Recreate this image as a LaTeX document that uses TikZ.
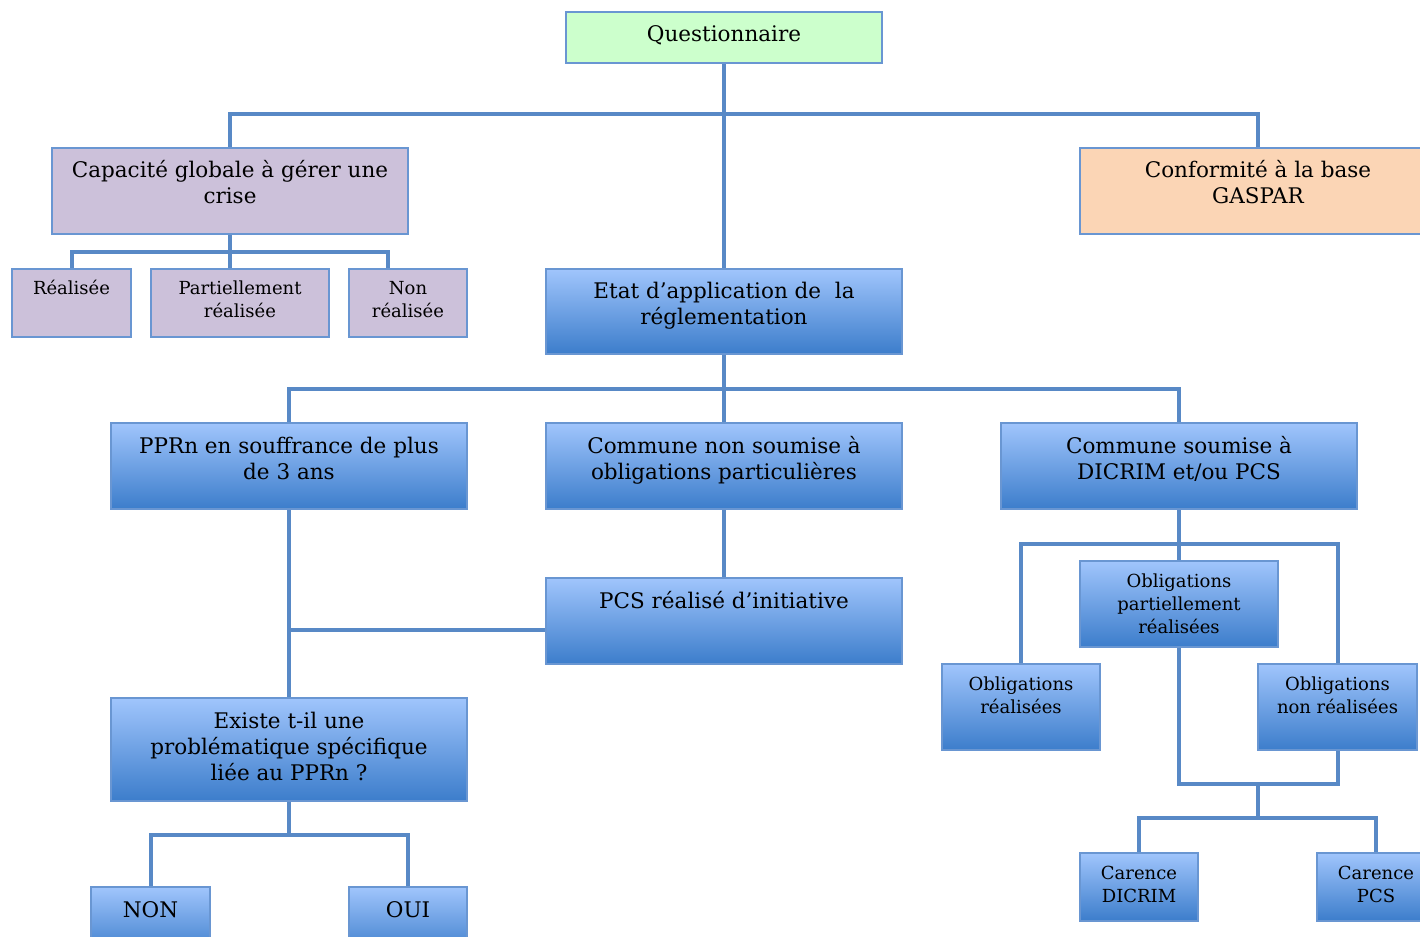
\documentclass[tikz,border=0pt]{standalone}
\usepackage{fontspec}
\setmainfont{DejaVu Serif}
\usetikzlibrary{backgrounds}
\definecolor{ln}{RGB}{88,137,198}
\definecolor{bd}{RGB}{105,150,210}
\definecolor{qgreen}{RGB}{204,255,204}
\definecolor{purp}{RGB}{204,193,218}
\definecolor{orng}{RGB}{251,213,181}
\definecolor{gtop}{RGB}{160,197,252}
\definecolor{gbot}{RGB}{60,125,203}
\newcommand\bigtxt{\fontsize{21.5}{26}\selectfont}
\newcommand\smtxt{\fontsize{18}{23}\selectfont}
\newcommand\boxlabel[4]{\node[txt,anchor=base] (#1-t) at ([yshift=-#2]#1.north) {#3\begin{tabular}[t]{@{}c@{}}#4\end{tabular}};}
\tikzset{
  bx/.style={draw=bd, line width=1.6pt, inner sep=0pt, outer sep=0pt, rectangle},
  grad/.style={bx, top color=gtop, bottom color=gbot},
  txt/.style={inner sep=0pt, outer sep=0pt, text=black},
  conn/.style={draw=ln, line width=4pt, line join=miter}
}
\begin{document}
\begin{tikzpicture}[x=1pt,y=-1pt]
\useasboundingbox (0,0) rectangle (1420,936);
% boxes
\node[bx, fill=qgreen, minimum width=316pt, minimum height=51pt] (q) at (724,37.5) {};
\node[bx, fill=purp, minimum width=356pt, minimum height=86pt] (cap) at (230,191) {};
\node[bx, fill=orng, minimum width=356pt, minimum height=86pt] (conf) at (1258,191) {};
\node[bx, fill=purp, minimum width=119pt, minimum height=68pt] (r1) at (71.5,303) {};
\node[bx, fill=purp, minimum width=178pt, minimum height=68pt] (r2) at (240,303) {};
\node[bx, fill=purp, minimum width=118pt, minimum height=68pt] (r3) at (408,303) {};
\node[grad, minimum width=356pt, minimum height=85pt] (etat) at (724,311.5) {};
\node[grad, minimum width=356pt, minimum height=86pt] (pprn) at (289,466) {};
\node[grad, minimum width=356pt, minimum height=86pt] (cns) at (724,466) {};
\node[grad, minimum width=356pt, minimum height=86pt] (cs) at (1179,466) {};
\node[grad, minimum width=356pt, minimum height=86pt] (pcs) at (724,621) {};
\node[grad, minimum width=356pt, minimum height=103pt] (ex) at (289,749.5) {};
\node[grad, minimum width=119pt, minimum height=68pt] (non) at (150.5,921) {};
\node[grad, minimum width=118pt, minimum height=68pt] (oui) at (408,921) {};
\node[grad, minimum width=198pt, minimum height=86pt] (op) at (1179,604) {};
\node[grad, minimum width=158pt, minimum height=86pt] (or) at (1021,707) {};
\node[grad, minimum width=159pt, minimum height=86pt] (onr) at (1337.5,707) {};
\node[grad, minimum width=118pt, minimum height=68pt] (cd) at (1139,887) {};
\node[grad, minimum width=118pt, minimum height=68pt] (cp) at (1376,887) {};
% labels
\boxlabel{q}{30pt}{\bigtxt}{Questionnaire}
\boxlabel{cap}{30pt}{\bigtxt}{Capacité globale à gérer une\\crise}
\boxlabel{conf}{30pt}{\bigtxt}{Conformité à la base\\GASPAR}
\boxlabel{r1}{25pt}{\smtxt}{Réalisée}
\boxlabel{r2}{25pt}{\smtxt}{Partiellement\\réalisée}
\boxlabel{r3}{25pt}{\smtxt}{Non\\réalisée}
\boxlabel{etat}{29pt}{\bigtxt}{Etat d’application de \ la\\réglementation}
\boxlabel{pprn}{30pt}{\bigtxt}{PPRn en souffrance de plus\\de 3 ans}
\boxlabel{cns}{30pt}{\bigtxt}{Commune non soumise à\\obligations particulières}
\boxlabel{cs}{30pt}{\bigtxt}{Commune soumise à\\DICRIM et/ou PCS}
\boxlabel{pcs}{30pt}{\bigtxt}{PCS réalisé d’initiative}
\boxlabel{ex}{30pt}{\bigtxt}{Existe t-il une\\problématique spécifique\\liée au PPRn ?}
\boxlabel{non}{30pt}{\bigtxt}{NON}
\boxlabel{oui}{30pt}{\bigtxt}{OUI}
\boxlabel{op}{26pt}{\smtxt}{Obligations\\partiellement\\réalisées}
\boxlabel{or}{26pt}{\smtxt}{Obligations\\réalisées}
\boxlabel{onr}{26pt}{\smtxt}{Obligations\\non réalisées}
\boxlabel{cd}{26pt}{\smtxt}{Carence\\DICRIM}
\boxlabel{cp}{26pt}{\smtxt}{Carence\\PCS}
% junctions
\coordinate (j1) at (724,114);
\coordinate (j2) at (230,252);
\coordinate (j3) at (724,389);
\coordinate (j4) at (289,835);
\coordinate (j5) at (1179,544);
\coordinate (j6) at (1179,784);
\coordinate (j7) at (1258,784);
\coordinate (j8) at (1258,818);
\begin{pgfonlayer}{background}
\draw[conn] (q.south) -- (etat.north);
\draw[conn] (cap.north) |- (j1) -| (conf.north);
\draw[conn] (cap.south) -- ([xshift=-10pt]r2.north);
\draw[conn] (r1.north) |- (j2) -| ([xshift=-20pt]r3.north);
\draw[conn] (etat.south) -- (cns.north);
\draw[conn] (pprn.north) |- (j3) -| (cs.north);
\draw[conn] (pprn.south) -- (ex.north);
\draw[conn] ([yshift=-9pt]pcs.west) -- ([yshift=-9pt]pcs.west -| pprn.south);
\draw[conn] (cns.south) -- (pcs.north);
\draw[conn] (ex.south) -- (j4);
\draw[conn] (non.north) |- (j4) -| (oui.north);
\draw[conn] (cs.south) -- (op.north);
\draw[conn] (or.north) |- (j5) -| (onr.north);
\draw[conn] (op.south) -- (j6) -| (onr.south);
\draw[conn] (j7) -- (j8);
\draw[conn] (cd.north) |- (j8) -| (cp.north);
\end{pgfonlayer}
\end{tikzpicture}
\end{document}
